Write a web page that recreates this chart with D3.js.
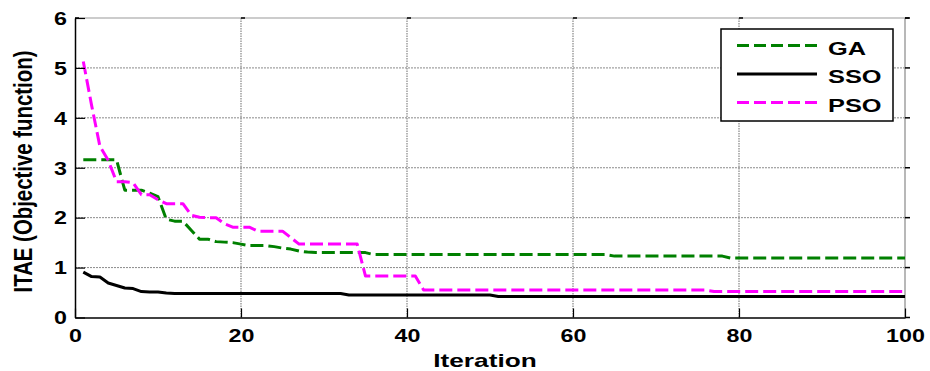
<!DOCTYPE html>
<html>
<head>
<meta charset="utf-8">
<script src="https://cdn.jsdelivr.net/npm/d3@7"></script>
<style>
  html, body { margin: 0; padding: 0; background: #fff; }
  svg { display: block; }
  text { font-family: "Liberation Sans", Arial, Helvetica, sans-serif; font-weight: bold; fill: #000; }
</style>
</head>
<body>
<svg id="chart" width="930" height="371"></svg>
<script>
// Convergence of the ITAE objective over 100 iterations
const iterations = d3.range(1, 101);

const gaValues = [
  3.16, 3.16, 3.16, 3.16, 3.16, 2.55, 2.55, 2.55, 2.49, 2.42,
  1.97, 1.93, 1.93, 1.75, 1.57, 1.57, 1.52, 1.51, 1.50, 1.47,
  1.44, 1.44, 1.44, 1.42, 1.39, 1.37, 1.33, 1.31, 1.30, 1.30,
  1.30, 1.30, 1.30, 1.30, 1.30, 1.26, 1.26, 1.26, 1.26, 1.26,
  1.26, 1.26, 1.26, 1.26, 1.26, 1.26, 1.26, 1.26, 1.26, 1.26,
  1.26, 1.26, 1.26, 1.26, 1.26, 1.26, 1.26, 1.26, 1.26, 1.26,
  1.26, 1.26, 1.26, 1.26, 1.23, 1.23, 1.23, 1.23, 1.23, 1.23,
  1.23, 1.23, 1.23, 1.23, 1.23, 1.23, 1.23, 1.23, 1.19, 1.19,
  1.19, 1.19, 1.19, 1.19, 1.19, 1.19, 1.19, 1.19, 1.19, 1.19,
  1.19, 1.19, 1.19, 1.19, 1.19, 1.19, 1.19, 1.19, 1.19, 1.19
];

const ssoValues = [
  0.91, 0.82, 0.81, 0.69, 0.64, 0.59, 0.58, 0.52, 0.51, 0.51,
  0.49, 0.48, 0.48, 0.48, 0.48, 0.48, 0.48, 0.48, 0.48, 0.48,
  0.48, 0.48, 0.48, 0.48, 0.48, 0.48, 0.48, 0.48, 0.48, 0.48,
  0.48, 0.48, 0.45, 0.45, 0.45, 0.45, 0.45, 0.45, 0.45, 0.45,
  0.45, 0.45, 0.45, 0.45, 0.45, 0.45, 0.45, 0.45, 0.45, 0.45,
  0.42, 0.42, 0.42, 0.42, 0.42, 0.42, 0.42, 0.42, 0.42, 0.42,
  0.42, 0.42, 0.42, 0.42, 0.42, 0.42, 0.42, 0.42, 0.42, 0.42,
  0.42, 0.42, 0.42, 0.42, 0.42, 0.42, 0.42, 0.42, 0.42, 0.42,
  0.42, 0.42, 0.42, 0.42, 0.42, 0.42, 0.42, 0.42, 0.42, 0.42,
  0.42, 0.42, 0.42, 0.42, 0.42, 0.42, 0.42, 0.42, 0.42, 0.42
];

const psoValues = [
  5.13, 4.25, 3.43, 3.15, 2.72, 2.72, 2.70, 2.46, 2.46, 2.36,
  2.28, 2.28, 2.28, 2.05, 2.01, 2.00, 2.00, 1.88, 1.81, 1.81,
  1.81, 1.73, 1.73, 1.73, 1.73, 1.60, 1.47, 1.47, 1.47, 1.47,
  1.47, 1.47, 1.47, 1.47, 0.83, 0.83, 0.83, 0.83, 0.83, 0.83,
  0.83, 0.55, 0.55, 0.55, 0.55, 0.55, 0.55, 0.55, 0.55, 0.55,
  0.55, 0.55, 0.55, 0.55, 0.55, 0.55, 0.55, 0.55, 0.55, 0.55,
  0.55, 0.55, 0.55, 0.55, 0.55, 0.55, 0.55, 0.55, 0.55, 0.55,
  0.55, 0.55, 0.55, 0.55, 0.55, 0.55, 0.52, 0.52, 0.52, 0.52,
  0.52, 0.52, 0.52, 0.52, 0.52, 0.52, 0.52, 0.52, 0.52, 0.52,
  0.52, 0.52, 0.52, 0.52, 0.52, 0.52, 0.52, 0.52, 0.52, 0.52
];

const seriesNames = ["GA", "SSO", "PSO"];
const xTickValues = [0, 20, 40, 60, 80, 100];
const yTickValues = [0, 1, 2, 3, 4, 5, 6];
const xLabel = "Iteration";
const yLabel = "ITAE (Objective function)";

// styling
const styles = {
  GA:  { color: "#008000", dash: "13,5" },
  SSO: { color: "#000000", dash: null },
  PSO: { color: "#ff00ff", dash: "13,5" }
};

const series = [
  { name: seriesNames[0], values: gaValues },
  { name: seriesNames[1], values: ssoValues },
  { name: seriesNames[2], values: psoValues }
];

const svg = d3.select("#chart");
const plot = { left: 75, right: 905, top: 18, bottom: 317.5 };

const x = d3.scaleLinear().domain([0, 100]).range([plot.left, plot.right]);
const y = d3.scaleLinear().domain([0, 6]).range([plot.bottom, plot.top]);

svg.append("rect").attr("width", 930).attr("height", 371).attr("fill", "#fff");

// dotted grid, plus the grey top and right frame
const grid = svg.append("g").attr("fill", "none");
xTickValues.filter(v => v > 0 && v < 100).forEach(v => {
  grid.append("line").attr("x1", x(v)).attr("x2", x(v)).attr("y1", y(6)).attr("y2", y(0))
    .attr("stroke", "#a4a4a4").attr("stroke-width", 1.6).attr("stroke-dasharray", "1.5,1");
});
yTickValues.filter(v => v > 0 && v < 6).forEach(v => {
  grid.append("line").attr("x1", x(0)).attr("x2", x(100)).attr("y1", y(v)).attr("y2", y(v))
    .attr("stroke", "#8a8a8a").attr("stroke-width", 1).attr("stroke-dasharray", "2,1");
});
svg.append("line").attr("x1", x(0)).attr("x2", x(100)).attr("y1", y(6)).attr("y2", y(6))
  .attr("stroke", "#9a9a9a").attr("stroke-width", 1.2);
svg.append("line").attr("x1", x(100)).attr("x2", x(100)).attr("y1", y(6)).attr("y2", y(0))
  .attr("stroke", "#9a9a9a").attr("stroke-width", 1.4);

// data lines
const line = d3.line()
  .x((d, i) => x(iterations[i]))
  .y(d => y(d));

series.forEach(s => {
  const st = styles[s.name];
  svg.append("path")
    .datum(s.values)
    .attr("fill", "none")
    .attr("stroke", st.color)
    .attr("stroke-width", 3)
    .attr("stroke-linejoin", "round")
    .attr("stroke-dasharray", st.dash)
    .attr("d", line);
});

// bottom axis
const xAxis = svg.append("g")
  .attr("transform", `translate(0,${plot.bottom})`)
  .call(d3.axisBottom(x).tickValues(xTickValues).tickSize(-9).tickSizeOuter(0).tickFormat(d3.format("d")));
xAxis.select(".domain").attr("stroke", "#000").attr("stroke-width", 1.5);
xAxis.selectAll(".tick line").attr("stroke", "#000").attr("stroke-width", 1.2);
xAxis.selectAll(".tick text")
  .attr("y", null).attr("dy", null)
  .attr("transform", "translate(0,24.5) scale(1.33,1)")
  .attr("text-anchor", "middle")
  .style("font-size", "17.5px");

// left axis
const yAxis = svg.append("g")
  .attr("transform", `translate(${plot.left},0)`)
  .call(d3.axisLeft(y).tickValues(yTickValues).tickSize(-10).tickSizeOuter(0).tickFormat(d3.format("d")));
yAxis.select(".domain").attr("stroke", "#000").attr("stroke-width", 1.5);
yAxis.selectAll(".tick line").attr("stroke", "#000").attr("stroke-width", 1.2);
yAxis.selectAll(".tick text")
  .attr("x", null).attr("dy", null)
  .attr("transform", "translate(-8,6.3) scale(1.33,1)")
  .attr("text-anchor", "end")
  .style("font-size", "17.5px");

// short tick marks along the top and right frame
const rightTicks = svg.append("g").attr("stroke", "#000").attr("stroke-width", 1.5);
yTickValues.forEach(v => {
  rightTicks.append("line").attr("x1", x(100)).attr("x2", x(100) + 5).attr("y1", y(v)).attr("y2", y(v));
});
xTickValues.forEach(v => {
  rightTicks.append("line").attr("x1", x(v)).attr("x2", x(v) + 4).attr("y1", y(6)).attr("y2", y(6));
});

// axis titles
svg.append("text")
  .attr("transform", `translate(485,366.5) scale(1.5,1)`)
  .attr("text-anchor", "middle")
  .style("font-size", "17.5px")
  .text(xLabel);

svg.append("text")
  .attr("transform", `translate(32,171.5) rotate(-90) scale(1.02,1.28)`)
  .attr("text-anchor", "middle")
  .style("font-size", "20px")
  .text(yLabel);

// legend
const legend = svg.append("g").attr("transform", `translate(${plot.right - 184},${plot.top + 11})`);
legend.append("rect")
  .attr("width", 172).attr("height", 92)
  .attr("fill", "#fff").attr("stroke", "#000").attr("stroke-width", 1.5);
series.forEach((s, i) => {
  const st = styles[s.name];
  const cy = 16.5 + i * 28.5;
  legend.append("line")
    .attr("x1", 16).attr("x2", 96).attr("y1", cy).attr("y2", cy)
    .attr("stroke", st.color).attr("stroke-width", 3)
    .attr("stroke-dasharray", st.dash ? "12,5" : null);
  legend.append("text")
    .attr("transform", `translate(107,${cy + 9.3}) scale(1.45,1)`)
    .style("font-size", "17.5px")
    .text(s.name);
});
</script>
</body>
</html>
